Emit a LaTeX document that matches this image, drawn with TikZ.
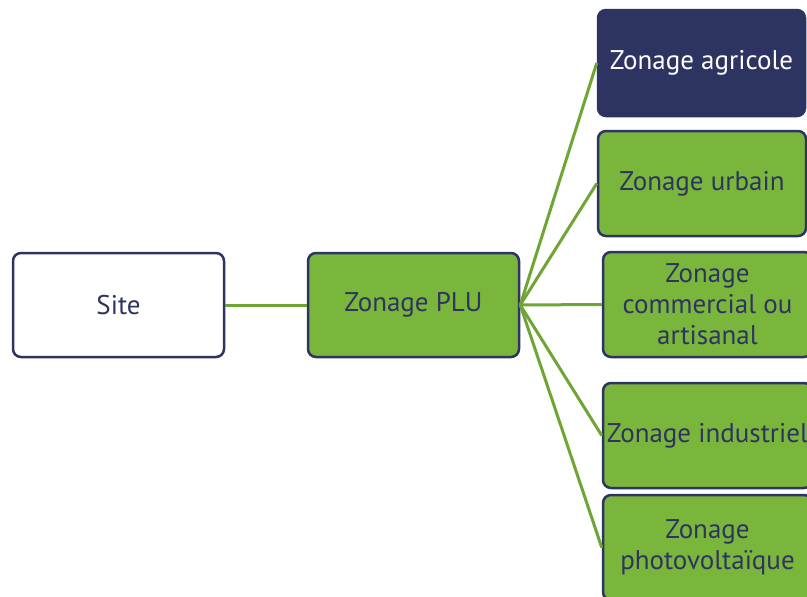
\documentclass[tikz,border=0pt]{standalone}
\usepackage{fontspec}
\setmainfont{PT Sans}
\definecolor{navy}{HTML}{2E3461}
\definecolor{leaf}{HTML}{7AB53C}
\definecolor{stem}{HTML}{6FA532}
\tikzset{
  box/.style={rectangle, rounded corners=8pt, line width=2.5pt, draw=navy,
    inner sep=0pt, align=center, font=\fontsize{27}{31}\selectfont},
  greenbox/.style={box, fill=leaf, text=navy},
  darkbox/.style={box, fill=navy, text=white},
  whitebox/.style={box, fill=white, text=navy},
  link/.style={draw=stem, line width=3pt},
}
\begin{document}
\begin{tikzpicture}[x=1pt, y=-1pt]
  \useasboundingbox (0,0) rectangle (807,597);
  \clip (0,0) rectangle (807,597);
  % root and first level
  \node[whitebox, minimum width=211pt, minimum height=104pt] (site) at (118.5,305) {Site};
  \node[greenbox, minimum width=211pt, minimum height=104pt] (plu) at (413.5,305) {Zonage PLU};
  % zoning types
  \node[darkbox, minimum width=207pt, minimum height=106pt] (agri) at (701.5,63) {Zonage agricole};
  \node[greenbox, minimum width=208pt, minimum height=105pt] (urb) at (702,183.5) {Zonage urbain};
  \node[greenbox, minimum width=209pt, minimum height=105pt] (comm) at (707.5,304.5) {Zonage\\commercial ou\\artisanal};
  \node[greenbox, minimum width=209pt, minimum height=105pt] (indu) at (707.5,435.5) {Zonage industriel};
  \node[greenbox, minimum width=209pt, minimum height=105pt] (photo) at (707.5,547.5) {Zonage\\photovoltaïque};
  % connectors
  \draw[link] (site.east) -- (plu.west);
  \foreach \t in {agri,urb,comm,indu,photo}
    \draw[link] (plu.east) -- (\t.west);
\end{tikzpicture}
\end{document}
